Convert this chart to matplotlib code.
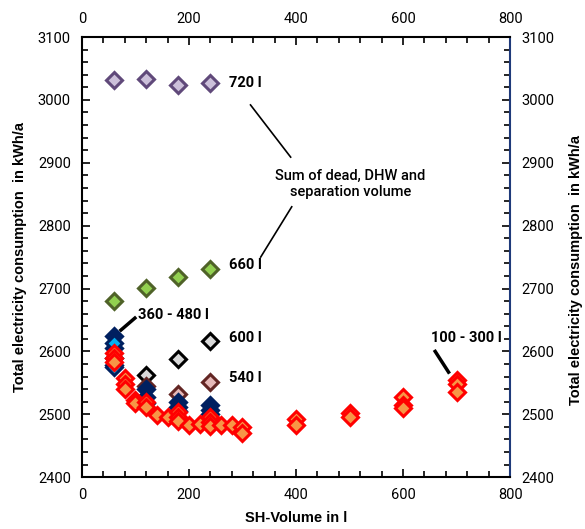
import matplotlib
matplotlib.use("Agg")
import matplotlib.pyplot as plt
from matplotlib.ticker import MultipleLocator

# series: SH volume (l) vs total electricity consumption (kWh/a)
x_720 = [60, 120, 180, 240]
y_720 = [3032, 3033, 3023, 3027]

x_660 = [60, 120, 180, 240]
y_660 = [2680, 2701, 2718, 2731]

x_600 = [120, 180, 240]
y_600 = [2563, 2588, 2617]

x_540 = [120, 180, 240]
y_540 = [2545, 2532, 2551]

x_360_480 = [60, 60, 60, 60, 120, 120, 120, 180, 180, 180, 240, 240, 240]
y_360_480 = [2624, 2605, 2590, 2578, 2540, 2528, 2518, 2520, 2512, 2505, 2515, 2507, 2500]
x_360_480_b = [60, 60]
y_360_480_b = [2614, 2575]

x_100_300 = [60, 60, 60, 80, 80, 80, 100, 100, 120, 120, 140, 160, 180, 180, 180,
             200, 220, 240, 240, 240, 260, 280, 300, 300, 400, 400, 500, 500,
             600, 600, 600, 700, 700, 700]
y_100_300 = [2597, 2590, 2583, 2558, 2548, 2540, 2522, 2518, 2520, 2512, 2499, 2496,
             2503, 2496, 2490, 2483, 2484, 2496, 2488, 2481, 2483, 2483, 2480, 2470,
             2492, 2483, 2502, 2496, 2528, 2515, 2510, 2555, 2548, 2535]

fig = plt.figure(figsize=(5.85, 5.29), dpi=100)
ax = fig.add_axes([0.140, 0.098, 0.732, 0.832])

ms = 8
mew = 2.2
ax.plot(x_720, y_720, "D", ms=ms, mew=mew, mec="#60497a", mfc="#ccc0da", zorder=3)
ax.plot(x_660, y_660, "D", ms=ms, mew=mew, mec="#4f6228", mfc="#92d050", zorder=3)
ax.plot(x_600, y_600, "D", ms=ms, mew=mew, mec="#000000", mfc="#d9d9d9", zorder=3)
ax.plot(x_540, y_540, "D", ms=ms, mew=mew, mec="#632523", mfc="#e6b9b8", zorder=3)
ax.plot(x_360_480, y_360_480, "D", ms=ms, mew=mew, mec="#002060", mfc="#002060", zorder=4)
ax.plot(x_360_480_b, y_360_480_b, "D", ms=ms, mew=mew, mec="#002060", mfc="#00b0f0", zorder=4)
ax.plot(x_100_300, y_100_300, "D", ms=ms, mew=mew, mec="#ff0000", mfc="#f79646", zorder=5)

ax.set_xlim(0, 800)
ax.set_ylim(2400, 3100)
ax.xaxis.set_major_locator(MultipleLocator(200))
ax.xaxis.set_minor_locator(MultipleLocator(40))
ax.yaxis.set_major_locator(MultipleLocator(100))
ax.yaxis.set_minor_locator(MultipleLocator(20))

tick_font = ["Roboto", "DejaVu Sans"]
ax.tick_params(which="both", direction="in", top=True, right=True,
               labeltop=True, labelright=True, width=1.2)
ax.tick_params(which="major", length=6, labelsize=10.5, pad=8)
ax.tick_params(which="minor", length=4)
for lab in ax.get_xticklabels() + ax.get_yticklabels():
    lab.set_fontfamily(tick_font)
ax.yaxis.set_tick_params(which="major", labelleft=True, labelright=True)

for s in ["left", "bottom", "top"]:
    ax.spines[s].set_color("black")
    ax.spines[s].set_linewidth(1.5)
ax.spines["right"].set_color("#1f3a7a")
ax.spines["right"].set_linewidth(1.5)

lab_font = dict(family="Liberation Sans", fontsize=10.5, fontweight="bold")
ax.set_xlabel("SH-Volume in l", labelpad=6, **lab_font)
ax.set_ylabel("Total electricity consumption  in kWh/a", labelpad=8, **lab_font)
fig.text(0.985, 0.49, "Total electricity consumption  in kWh/a", rotation=90,
         ha="center", va="center", **lab_font)

ann = dict(family=tick_font, fontsize=10.5, fontweight="bold",
           va="center", ha="left")
ax.text(274, 3027, "720 l", **ann)
ax.text(274, 2737, "660 l", **ann)
ax.text(274, 2621, "600 l", **ann)
ax.text(274, 2557, "540 l", **ann)
ax.text(104, 2658, "360 - 480 l", **ann)
ax.text(652, 2622, "100 - 300 l", **ann)
ax.text(502, 2866, "Sum of dead, DHW and\nseparation volume",
        family=tick_font, fontsize=10.5, fontweight="medium",
        ha="center", va="center", linespacing=1.2)

ax.plot([315, 390], [2992, 2909], color="black", lw=1.2)
ax.plot([392, 334], [2830, 2750], color="black", lw=1.2)
ax.plot([73, 99], [2634, 2653], color="black", lw=2.5)
ax.plot([660, 685], [2600, 2567], color="black", lw=2.5)

fig.savefig("out.png", dpi=100)
